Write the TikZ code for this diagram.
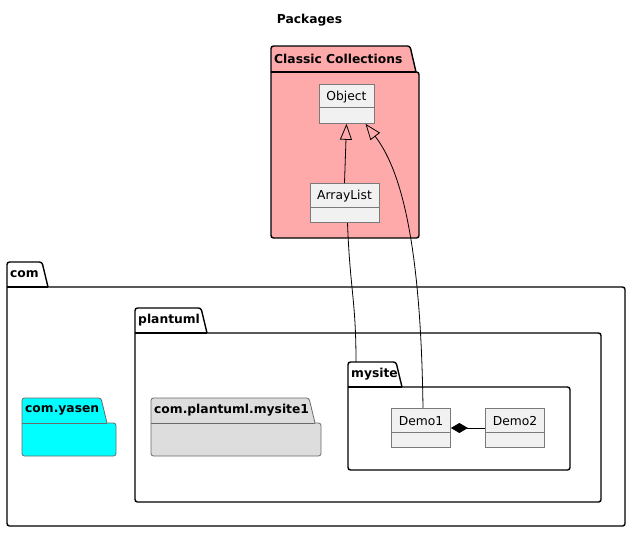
\documentclass[tikz,border=0pt]{standalone}
\usepackage{fontspec}
\setmainfont{DejaVu Sans}
\usetikzlibrary{arrows.meta}
\definecolor{clsfill}{HTML}{F1F1F1}
\definecolor{clsdraw}{HTML}{7A7A7A}
\definecolor{ccfill}{HTML}{FFAAAA}
\definecolor{yasenfill}{HTML}{00FFFF}
\definecolor{mysite1fill}{HTML}{DDDDDD}
\definecolor{thindraw}{HTML}{6A6A6A}
\tikzset{
  pkgthick/.style={draw=black, line width=1.4pt},
  pkgthin/.style={draw=thindraw, line width=0.8pt},
  pkgtitle/.style={font=\fontsize{12.3}{14}\selectfont\bfseries, inner sep=0pt, anchor=west},
  clsbox/.style={draw=clsdraw, fill=clsfill, line width=0.8pt, minimum height=39pt, inner sep=0pt},
  clsline/.style={draw=clsdraw, line width=0.8pt},
  clstext/.style={font=\fontsize{12.3}{14}\selectfont, inner sep=0pt},
  link/.style={draw=black, line width=0.8pt},
  titletext/.style={font=\fontsize{12.3}{14}\selectfont\bfseries, inner sep=0pt}
}
% name, x1, ytop, tabright, ytab, x2, y2, style, title
\newcommand\umlpkg[9]{%
  \draw[#8, rounded corners=2.5pt] (#2,#5) -- (#2,#3) -- (#4,#3) [sharp corners] -- ({#4+6},#5) [rounded corners=2.5pt] -- (#6,#5) -- (#6,#7) -- (#2,#7) -- cycle;
  \draw[#8] (#2,#5) -- ({#4+6},#5);
  \node[pkgtitle] (#1) at ({#2+3},{(#3+#5)/2}) {#9};
}
% name, cx, top, width, divider offset, text
\newcommand\umlclass[6]{%
  \node[clsbox, minimum width=#4, anchor=north] (#1) at (#2,#3) {};
  \draw[clsline] ([yshift=-#5]#1.north west) -- ([yshift=-#5]#1.north east);
  \node[clstext] (#1text) at ([yshift={-0.5*#5-1.5pt}]#1.north) {#6};
}
\begin{document}
\begin{tikzpicture}[x=1pt, y=-1pt]
\useasboundingbox (0,0) rectangle (631,533);
\node[titletext] (title) at (309.5,20) {Packages};

\umlpkg{cc}{271}{46}{410}{72}{419}{238}{pkgthick, fill=ccfill}{Classic Collections}
\umlpkg{com}{7}{262}{42}{287}{625}{526}{pkgthick, fill=white}{com}
\umlpkg{plantuml}{135}{308}{201}{333}{601}{502}{pkgthick, fill=white}{plantuml}
\umlpkg{yasen}{22}{398}{101}{423}{116}{456}{pkgthin, fill=yasenfill}{com.yasen}
\umlpkg{mysiteone}{151}{398}{309}{423}{321}{456}{pkgthin, fill=mysite1fill}{com.plantuml.mysite1}
\umlpkg{mysite}{348}{362}{396}{387}{570}{470}{pkgthick, fill=white}{mysite}
\coordinate (mysitetab) at (356,362);

\umlclass{obj}{346.5}{84}{55pt}{23pt}{Object}
\umlclass{alist}{344.5}{183}{69pt}{24pt}{ArrayList}
\umlclass{demoone}{421}{408}{59pt}{24pt}{Demo1}
\umlclass{demotwo}{515}{408}{59pt}{24pt}{Demo2}

\draw[link, -{Triangle[open, length=16pt, width=12pt]}] (alist.north) -- (obj.south);
\draw[link, -{Triangle[open, length=16pt, width=12pt]}] ([xshift=2pt]demoone.north) .. controls (421,260) and (405,175) .. ([xshift=19pt]obj.south);
\draw[link] ([xshift=3pt]alist.south) .. controls (350,290) and (356,300) .. (mysitetab);
\draw[link, {Diamond[length=17pt, width=10pt]}-] ([yshift=-20pt]demoone.north east) -- ([yshift=-20pt]demotwo.north west);
\end{tikzpicture}
\end{document}
